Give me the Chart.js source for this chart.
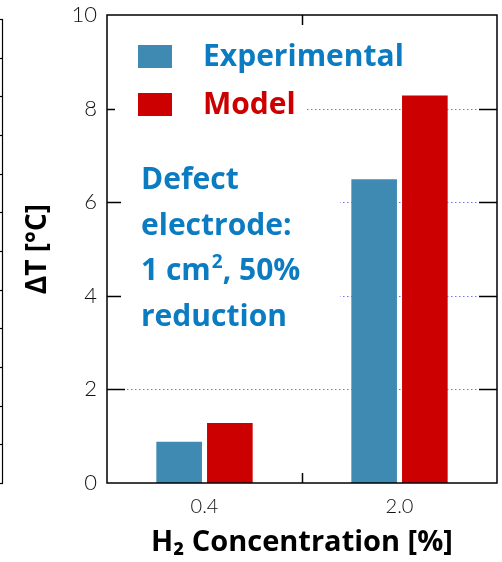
<!DOCTYPE html>
<html>
<head>
<meta charset="utf-8">
<script src="https://cdn.jsdelivr.net/npm/chart.js@4/dist/chart.umd.min.js"></script>
<style>
  html, body { margin: 0; padding: 0; background: #fff; }
  #wrap { width: 502px; height: 562px; }
</style>
</head>
<body>
<div id="wrap"><canvas id="c" width="502" height="562"></canvas></div>
<script>
// ---- data ----
const categories = ['0.4', '2.0'];
const seriesNames = ['Experimental', 'Model'];
const experimental = [0.88, 6.49];
const model = [1.28, 8.28];
const yTicks = [0, 2, 4, 6, 8, 10];
const noteLines = ['Defect', 'electrode:', '1 cm\u00B2, 50%', 'reduction'];
const xTitle = 'H\u2082 Concentration [%]';
const yTitle = '\u0394T [\u00B0C]';

const barBlue = '#3f8ab2';
const barRed = '#cc0000';
const textBlue = '#0b7cc2';
const textRed = '#cc0000';
const gridColor = '#7070ff';
const boldFamily = '"Open Sans", Lato, sans-serif';

const decor = {
  id: 'decor',
  beforeDatasetsDraw(chart) {
    const {ctx, chartArea: a, scales: {y}} = chart;
    ctx.save();
    ctx.strokeStyle = gridColor;
    ctx.lineWidth = 1;
    ctx.setLineDash([1.5, 2.5]);
    yTicks.forEach(v => {
      if (v <= 0 || v >= 10) return;
      const py = Math.round(y.getPixelForValue(v)) + 0.5;
      ctx.beginPath(); ctx.moveTo(a.left, py); ctx.lineTo(a.right, py); ctx.stroke();
    });
    ctx.restore();
  },
  afterDatasetsDraw(chart) {
    const {ctx, chartArea: a, scales: {x, y}} = chart;
    ctx.save();
    // inward ticks
    ctx.strokeStyle = '#000';
    ctx.lineWidth = 1.5;
    yTicks.forEach(v => {
      if (v <= 0 || v >= 10) return;
      const py = Math.round(y.getPixelForValue(v)) + 0.5;
      ctx.beginPath(); ctx.moveTo(a.left, py); ctx.lineTo(a.left + 18, py); ctx.stroke();
      ctx.beginPath(); ctx.moveTo(a.right, py); ctx.lineTo(a.right - 18, py); ctx.stroke();
    });
    for (let i = 0; i < categories.length - 1; i++) {
      const px = Math.round((x.getPixelForValue(i) + x.getPixelForValue(i + 1)) / 2) + 0.5;
      ctx.beginPath(); ctx.moveTo(px, a.bottom); ctx.lineTo(px, a.bottom - 10); ctx.stroke();
      ctx.beginPath(); ctx.moveTo(px, a.top); ctx.lineTo(px, a.top + 10); ctx.stroke();
    }
    // white backgrounds of legend and note
    ctx.fillStyle = '#fff';
    ctx.fillRect(a.left + 8, a.top + 11, 192, 104);
    ctx.fillRect(a.left + 14, a.top + 132, 219, 193);
    // frame
    ctx.strokeStyle = '#000';
    ctx.lineWidth = 1.5;
    ctx.strokeRect(a.left, a.top, a.right - a.left, a.bottom - a.top);

    // legend
    const legTextColors = [textBlue, textRed];
    ctx.font = 'bold 30px ' + boldFamily;
    ctx.textBaseline = 'middle';
    ctx.textAlign = 'left';
    chart.data.datasets.forEach((ds, i) => {
      const cy = a.top + 41 + i * 48;
      ctx.fillStyle = ds.backgroundColor;
      ctx.fillRect(a.left + 31, cy - 11, 34, 23);
      ctx.fillStyle = legTextColors[i];
      ctx.fillText(ds.label, a.left + 96, cy + 1);
    });

    // note (with a real superscript for the squared unit)
    const mainFont = 'bold 30px ' + boldFamily;
    const supFont = 'bold 19px ' + boldFamily;
    ctx.textBaseline = 'alphabetic';
    ctx.fillStyle = textBlue;
    noteLines.forEach((t, i) => {
      const by = a.top + 174 + i * 45.5;
      let cx = a.left + 34;
      const parts = t.split('\u00B2');
      parts.forEach((p, j) => {
        ctx.font = mainFont;
        ctx.fillText(p, cx, by);
        cx += ctx.measureText(p).width;
        if (j < parts.length - 1) {
          ctx.font = supFont;
          ctx.fillText('2', cx + 1, by - 12);
          cx += ctx.measureText('2').width + 1;
        }
      });
    });

    // partial neighbouring axis at the far left edge
    ctx.strokeStyle = '#000';
    ctx.lineWidth = 1.2;
    const t0 = a.top + 4, t1 = a.bottom;
    ctx.beginPath(); ctx.moveTo(2.5, t0); ctx.lineTo(2.5, t1); ctx.stroke();
    for (let k = 0; k <= 12; k++) {
      const py = Math.round(t1 - k * (t1 - t0) / 12) + 0.5;
      ctx.beginPath(); ctx.moveTo(0, py); ctx.lineTo(3, py); ctx.stroke();
    }
    ctx.restore();
  }
};

new Chart(document.getElementById('c'), {
  type: 'bar',
  data: {
    labels: categories,
    datasets: [
      { label: seriesNames[0], data: experimental, backgroundColor: barBlue, borderWidth: 0,
        categoryPercentage: 0.52, barPercentage: 0.9 },
      { label: seriesNames[1], data: model, backgroundColor: barRed, borderWidth: 0,
        categoryPercentage: 0.52, barPercentage: 0.9 }
    ]
  },
  options: {
    responsive: false,
    animation: false,
    devicePixelRatio: 1,
    layout: { padding: { top: 15, right: 5, left: 0, bottom: 0 } },
    plugins: { legend: { display: false }, tooltip: { enabled: false } },
    scales: {
      x: {
        type: 'category',
        offset: true,
        grid: { display: false },
        border: { display: false },
        ticks: { color: '#111', padding: 4, font: { family: 'Lato', weight: '300', size: 20 } },
        title: { display: true, text: xTitle, color: '#000', padding: { top: 0, bottom: 2 },
                 font: { family: '"Open Sans"', weight: 'bold', size: 29 } },
        afterFit(s) { s.height = 79; s.paddingLeft = 0; s.paddingRight = 0; }
      },
      y: {
        min: 0, max: 10,
        grid: { display: false, drawTicks: false },
        border: { display: false },
        afterBuildTicks(s) { s.ticks = yTicks.map(v => ({ value: v })); },
        ticks: { color: '#111', padding: 10, font: { family: 'Lato', weight: '300', size: 22 } },
        title: { display: true, text: yTitle, color: '#000', padding: { top: 21, bottom: 0 },
                 font: { family: '"Open Sans"', weight: 'bold', size: 28 } },
        afterFit(s) { s.width = 107; s.paddingTop = 0; s.paddingBottom = 0; }
      }
    }
  },
  plugins: [decor]
});
</script>
</body>
</html>
